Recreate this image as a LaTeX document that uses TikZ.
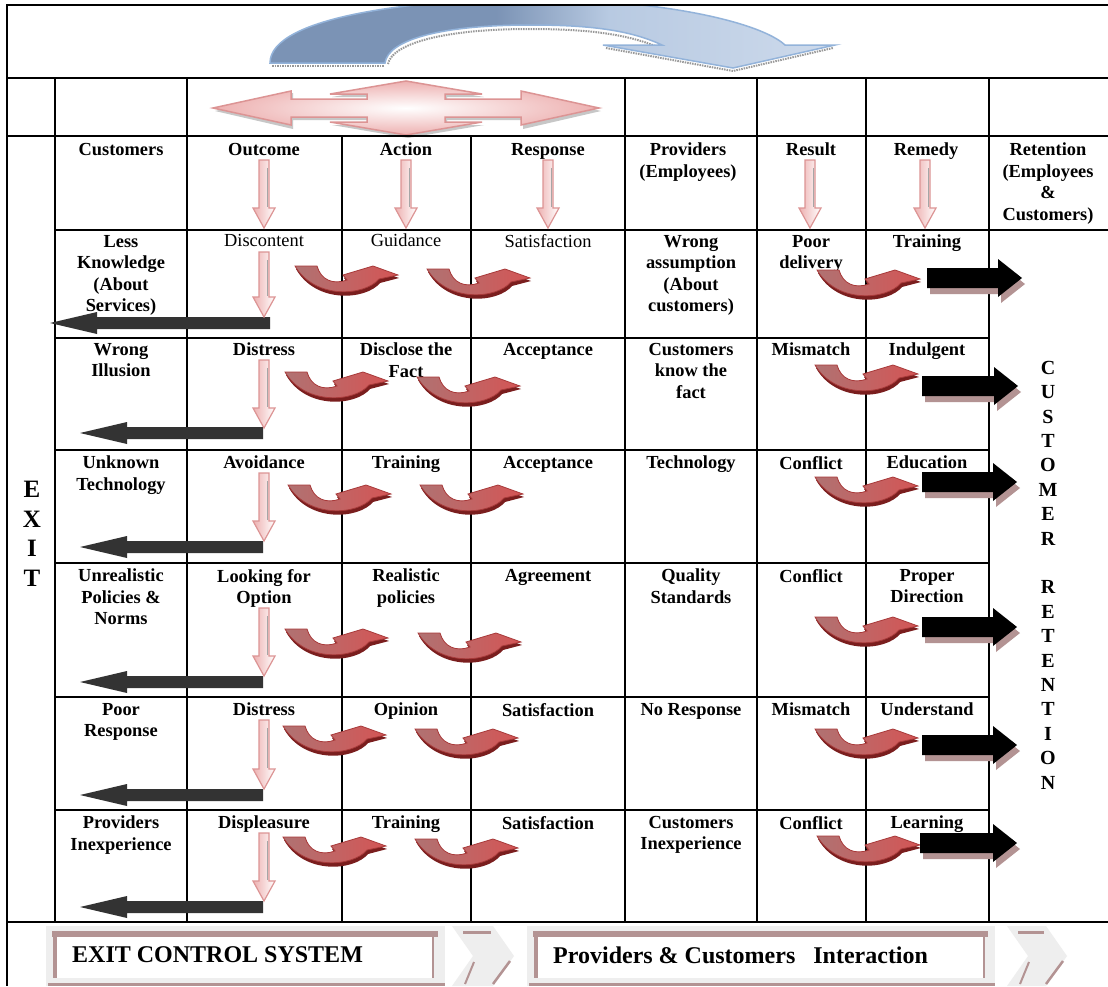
\documentclass[tikz,border=0pt]{standalone}
\usepackage{fontspec}
\setmainfont{Liberation Serif}
\usetikzlibrary{calc}
\definecolor{pinkline}{HTML}{DC9494}
\definecolor{pinkmid}{HTML}{EDB0B0}
\definecolor{redleft}{HTML}{B07272}
\definecolor{redright}{HTML}{D45555}
\definecolor{redline}{HTML}{A83A3A}
\definecolor{reddark}{HTML}{7A1E1E}
\definecolor{darkarr}{HTML}{333333}
\definecolor{shadowbrown}{HTML}{B39393}
\definecolor{bluedark}{HTML}{7B93B5}
\definecolor{bluemid}{HTML}{B8CAE2}
\definecolor{bluelight}{HTML}{E8EEF7}
\definecolor{blueline}{HTML}{93B3DA}
\definecolor{boxgray}{HTML}{EEEEEE}
\pgfdeclarehorizontalshading{bluearc}{100bp}{color(0bp)=(bluedark); color(45bp)=(bluedark); color(55bp)=(bluemid); color(100bp)=(bluelight)}
\tikzset{
  grid/.style={line width=2pt, black},
  bt/.style={font=\bfseries\fontsize{18.4}{21.5}\selectfont, align=center, anchor=north, inner sep=0pt},
  nt/.style={font=\fontsize{18.4}{21.5}\selectfont, align=center, anchor=north, inner sep=0pt},
}
\newcommand{\pinkdown}[3]{%
  \shadedraw[left color=pinkmid, right color=white, draw=pinkline, line width=1.2pt]
    (#1-5,#2) -- (#1+5,#2) -- (#1+5,#3-20) -- (#1+11,#3-20) -- (#1,#3) -- (#1-11,#3-20) -- (#1-5,#3-20) -- cycle;
  \draw[black!35, line width=0.8pt] (#1+3,#2+8) -- (#1+3,#3-21);
}
\newcommand{\blackleft}[4]{%
  \fill[darkarr] (#1,#4) -- (#2,#4-11) -- (#2,#4-6) -- (#3,#4-6) -- (#3,#4+6) -- (#2,#4+6) -- (#2,#4+11) -- cycle;
}
\newcommand{\blackright}[3]{%
  \begin{scope}[shift={(3,6)}]
  \fill[shadowbrown] (#1,#2-10) -- (#3-24,#2-10) -- (#3-24,#2-19) -- (#3,#2) -- (#3-24,#2+19) -- (#3-24,#2+10) -- (#1,#2+10) -- cycle;
  \end{scope}
  \fill[black] (#1,#2-10) -- (#3-24,#2-10) -- (#3-24,#2-19) -- (#3,#2) -- (#3-24,#2+19) -- (#3-24,#2+10) -- (#1,#2+10) -- cycle;
}
\newcommand{\redcurve}[2]{%
  \begin{scope}[shift={(#1,#2)}]
  \fill[reddark] (1,3) -- (23,3) .. controls (27,17) and (39,22) .. (53,17) -- (49,12) -- (79,3) -- (104,12) -- (85,17) .. controls (71,34) and (21,38) .. (1,3) -- cycle;
  \shadedraw[left color=redleft, right color=redright, draw=redline, line width=0.8pt]
    (0,0) -- (22,0) .. controls (26,14) and (38,19) .. (52,14) -- (48,9) -- (78,0) -- (103,9) -- (84,13) .. controls (70,30) and (20,34) .. (0,0) -- cycle;
  \end{scope}
}
\begin{document}
\begin{tikzpicture}[x=1pt,y=-1pt]
\useasboundingbox (0,0) rectangle (1108,986);
\fill[white] (0,0) rectangle (1108,986);

% big blue curved arrow
\begin{scope}
\clip (7,5) rectangle (1108,78);
\draw[black!40, line width=2pt, dash pattern=on 1.5pt off 1pt] (272,66) -- (384,66);
\draw[black!40, line width=2pt, dash pattern=on 1.5pt off 1pt] (388,64) .. controls (392,44) and (442,29) .. (530,29) .. controls (592,29) and (632,35) .. (662,49);
\draw[black!40, line width=2pt, dash pattern=on 1.5pt off 1pt] (606,48) -- (733,71) -- (833,48);
\shadedraw[shading=bluearc, draw=blueline, line width=1.5pt]
  (270,63) .. controls (270,16) and (420,-1) .. (530,-1) .. controls (660,-1) and (760,22) .. (785,45)
  -- (835,45) -- (733,68) -- (603,45) -- (662,45)
  .. controls (630,30) and (590,25) .. (530,25) .. controls (440,25) and (388,40) .. (385,63) -- cycle;
\end{scope}

% four-way pink arrow
\begin{scope}[shift={(406,108)}]
\fill[black!22] (2,-24) -- (78,-11) -- (41,-11) -- (41,-6) -- (117,-6) -- (117,-15) -- (195,3) -- (117,21) -- (117,12) -- (41,12) -- (41,17) -- (78,17) -- (2,30) -- (-74,17) -- (-37,17) -- (-37,12) -- (-113,12) -- (-113,21) -- (-191,3) -- (-113,-15) -- (-113,-6) -- (-37,-6) -- (-37,-11) -- (-74,-11) -- cycle;
\shadedraw[inner color=white, outer color=pinkmid, draw=pinkline, line width=1.5pt]
  (0,-27) -- (76,-14) -- (39,-14) -- (39,-9) -- (115,-9) -- (115,-17) -- (193,0) -- (115,17) -- (115,9) -- (39,9) -- (39,14) -- (76,14) -- (0,27) -- (-76,14) -- (-39,14) -- (-39,9) -- (-115,9) -- (-115,17) -- (-193,0) -- (-115,-17) -- (-115,-9) -- (-39,-9) -- (-39,-14) -- (-76,-14) -- cycle;
\end{scope}

% grid
\draw[grid] (7,5) -- (1108,5);
\draw[grid] (7,4) -- (7,986);
\draw[grid] (7,78) -- (1108,78);
\draw[grid] (7,136) -- (1108,136);
\draw[grid] (55,230) -- (1108,230);
\foreach \y in {338,450,563,697,810} \draw[grid] (55,\y) -- (989,\y);
\draw[grid] (7,922) -- (1108,922);
\foreach \x in {55,187,625,757,866,989} \draw[grid] (\x,78) -- (\x,922);
\foreach \x in {342,471} \draw[grid] (\x,136) -- (\x,922);

% header texts
\node[bt] (hA) at (121,143) {Customers};
\node[bt] (hB) at (264,143) {Outcome};
\node[bt] (hC) at (406,143) {Action};
\node[bt] (hD) at (548,143) {Response};
\node[bt] (hE) at (688,143) {Providers\\(Employees)};
\node[bt] (hF) at (811,143) {Result};
\node[bt] (hG) at (926,143) {Remedy};
\node[bt] (hH) at (1048,143) {Retention\\(Employees\\\&\\Customers)};

% row 1
\node[bt] (aA) at (121,235) {Less\\Knowledge\\(About\\Services)};
\node[nt] (aB) at (264,234) {Discontent};
\node[nt] (aC) at (406,234) {Guidance};
\node[nt] (aD) at (548,234) {Satisfaction};
\node[bt] (aE) at (691,235) {Wrong\\assumption\\(About\\customers)};
\node[bt] (aF) at (811,235) {Poor\\delivery};
\node[bt] (aG) at (927,235) {Training};
% row 2
\node[bt] (bA) at (121,343) {Wrong\\Illusion};
\node[bt] (bB) at (264,343) {Distress};
\node[bt] (bC) at (406,343) {Disclose the\\Fact};
\node[bt] (bD) at (548,343) {Acceptance};
\node[bt] (bE) at (691,343) {Customers\\know the\\fact};
\node[bt] (bF) at (811,343) {Mismatch};
\node[bt] (bG) at (927,343) {Indulgent};
% row 3
\node[bt] (cA) at (121,456) {Unknown\\Technology};
\node[bt] (cB) at (264,456) {Avoidance};
\node[bt] (cC) at (406,456) {Training};
\node[bt] (cD) at (548,456) {Acceptance};
\node[bt] (cE) at (691,456) {Technology};
\node[bt] (cF) at (811,456) {Conflict};
\node[bt] (cG) at (927,456) {Education};
% row 4
\node[bt] (dA) at (121,569) {Unrealistic\\Policies \&\\Norms};
\node[bt] (dB) at (264,569) {Looking for\\Option};
\node[bt] (dC) at (406,569) {Realistic\\policies};
\node[bt] (dD) at (548,569) {Agreement};
\node[bt] (dE) at (691,569) {Quality\\Standards};
\node[bt] (dF) at (811,569) {Conflict};
\node[bt] (dG) at (927,569) {Proper\\Direction};
% row 5
\node[bt] (eA) at (121,703) {Poor\\Response};
\node[bt] (eB) at (264,703) {Distress};
\node[bt] (eC) at (406,703) {Opinion};
\node[bt] (eD) at (548,703) {Satisfaction};
\node[bt] (eE) at (691,703) {No Response};
\node[bt] (eF) at (811,703) {Mismatch};
\node[bt] (eG) at (927,703) {Understand};
% row 6
\node[bt] (fA) at (121,816) {Providers\\Inexperience};
\node[bt] (fB) at (264,816) {Displeasure};
\node[bt] (fC) at (406,816) {Training};
\node[bt] (fD) at (548,816) {Satisfaction};
\node[bt] (fE) at (691,816) {Customers\\Inexperience};
\node[bt] (fF) at (811,816) {Conflict};
\node[bt] (fG) at (927,816) {Learning};

% side labels
\node[font=\bfseries\fontsize{25}{29.5}\selectfont, align=center, inner sep=0pt] (exit) at (32,534) {E\\X\\I\\T};
\node[font=\bfseries\fontsize{20}{24.4}\selectfont, align=center, inner sep=0pt] (custret) at (1048,575) {C\\U\\S\\T\\O\\M\\E\\R\\[24.4pt]R\\E\\T\\E\\N\\T\\I\\O\\N};

% header pink arrows
\pinkdown{264}{160}{228}
\pinkdown{406}{160}{228}
\pinkdown{548}{160}{228}
\pinkdown{810}{160}{228}
\pinkdown{925}{160}{228}

% outcome column pink arrows and exit arrows
\blackleft{50}{97}{270}{323}
\pinkdown{264}{252}{317}
\blackleft{80}{127}{263}{433}
\pinkdown{264}{360}{428}
\blackleft{80}{127}{263}{547}
\pinkdown{264}{473}{541}
\blackleft{80}{127}{263}{682}
\pinkdown{264}{608}{676}
\blackleft{80}{127}{263}{795}
\pinkdown{264}{720}{789}
\blackleft{80}{127}{263}{907}
\pinkdown{264}{833}{901}

% red curved arrows
\redcurve{295}{266}\redcurve{427}{269}\redcurve{817}{270}
\redcurve{285}{372}\redcurve{417}{377}\redcurve{815}{365}
\redcurve{288}{485}\redcurve{420}{485}\redcurve{815}{477}
\redcurve{285}{629}\redcurve{418}{633}\redcurve{815}{617}
\redcurve{283}{726}\redcurve{415}{729}\redcurve{815}{729}
\redcurve{283}{837}\redcurve{415}{839}\redcurve{817}{836}

% black right arrows
\blackright{927}{278}{1022}
\blackright{922}{386}{1018}
\blackright{922}{482}{1017}
\blackright{922}{627}{1017}
\blackright{922}{745}{1017}
\blackright{920}{843}{1017}

% bottom bar
\fill[boxgray] (46,926) rectangle (445,986);
\fill[shadowbrown] (52,931) rectangle (438,937);
\fill[shadowbrown] (48,983) rectangle (445,986);
\fill[shadowbrown] (53,937) rectangle (57,978);
\fill[shadowbrown] (432,937) rectangle (434,978);
\fill[white] (57,937) rectangle (432,978);
\node[font=\bfseries\fontsize{24}{28}\selectfont, anchor=west, inner sep=0pt] (ecs) at (72,955) {EXIT CONTROL SYSTEM};

\fill[boxgray] (452,926) -- (493,926) -- (514,956) -- (493,986) -- (452,986) -- (473,956) -- cycle;
\draw[shadowbrown, line width=3pt] (463,932) -- (491,932);
\draw[shadowbrown, line width=2.5pt] (510,961) -- (493,984);
\draw[shadowbrown, line width=2pt] (474,962) -- (465,984);

\fill[boxgray] (527,926) rectangle (995,986);
\fill[shadowbrown] (533,931) rectangle (988,937);
\fill[shadowbrown] (529,983) rectangle (995,986);
\fill[shadowbrown] (534,937) rectangle (538,978);
\fill[shadowbrown] (983,937) rectangle (985,978);
\fill[white] (538,937) rectangle (983,978);
\node[font=\bfseries\fontsize{24}{28}\selectfont, anchor=west, inner sep=0pt] (pci) at (553,955) {Providers \& Customers\ \ \ Interaction};

\fill[boxgray] (1007,926) -- (1046,926) -- (1067,956) -- (1046,986) -- (1007,986) -- (1028,956) -- cycle;
\draw[shadowbrown, line width=3pt] (1018,932) -- (1044,932);
\draw[shadowbrown, line width=2.5pt] (1063,961) -- (1046,984);
\draw[shadowbrown, line width=2pt] (1029,962) -- (1020,984);
\end{tikzpicture}
\end{document}
